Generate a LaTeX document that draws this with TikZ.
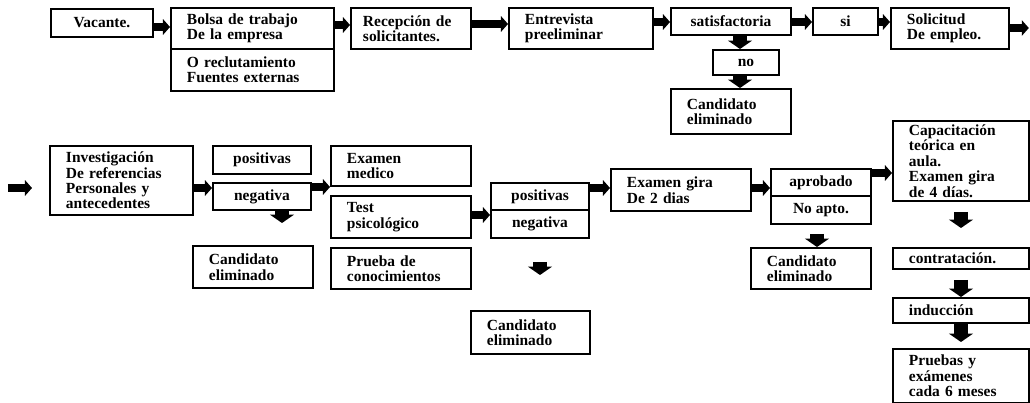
\documentclass[tikz,border=0pt]{standalone}
\usepackage{fontspec}
\setmainfont{Liberation Serif}
\usetikzlibrary{arrows.meta}

\begin{document}
\begin{tikzpicture}[
caja/.style={draw,line width=1.4pt,anchor=north west,inner xsep=0.4cm,inner ysep=1pt,align=left,font=\bfseries\fontsize{11}{11}\selectfont},
centro/.style={caja,align=center,inner xsep=2pt},
flecha/.style={line width=5pt,-{Triangle[length=5pt,width=11pt]}},
bajada/.style={line width=10.5pt,-{Triangle[length=6pt,width=17pt]}}]
\useasboundingbox (0,0) rectangle (25.75,-10.075);
\node[centro,minimum width=2.55cm,minimum height=0.7cm] (vac) at (1.25,-0.2) {Vacante.};
\node[caja,text width=3.275cm,minimum height=1.025cm] (bolsa) at (4.25,-0.175) {Bolsa de trabajo\\De la empresa};
\node[caja,text width=3.275cm,minimum height=1.05cm] (fuentes) at (4.25,-1.2) {O reclutamiento\\Fuentes externas};
\node[caja,inner xsep=0.3cm,text width=2.4cm,minimum height=1.025cm] (recep) at (8.75,-0.175) {Recepción de\\solicitantes.};
\node[caja,text width=2.8cm,minimum height=1.025cm] (entrev) at (12.7,-0.175) {Entrevista\\preeliminar};
\node[centro,minimum width=3cm,minimum height=0.675cm] (satisf) at (16.75,-0.175) {satisfactoria};
\node[centro,minimum width=1.625cm,minimum height=0.675cm] (si) at (20.3,-0.175) {si};
\node[caja,text width=2.15cm,minimum height=1.025cm] (solic) at (22.25,-0.175) {Solicitud\\De empleo.};
\node[centro,minimum width=1.65cm,minimum height=0.625cm] (no) at (17.8,-1.225) {no};
\node[caja,text width=2.2cm,minimum height=1.125cm] (elim1) at (16.75,-2.2) {Candidato\\eliminado};
\node[caja,text width=2.775cm,minimum height=1.725cm] (invest) at (1.225,-3.625) {Investigación\\De referencias\\Personales y\\antecedentes};
\node[centro,minimum width=2.45cm,minimum height=0.7cm] (posA) at (5.3,-3.625) {positivas};
\node[centro,minimum width=2.45cm,minimum height=0.675cm] (negA) at (5.3,-4.55) {negativa};
\node[caja,text width=2.2cm,minimum height=1.05cm] (elim2) at (4.8,-6.125) {Candidato\\eliminado};
\node[caja,text width=2.7cm,minimum height=1cm] (medico) at (8.25,-3.625) {Examen\\medico};
\node[caja,text width=2.7cm,minimum height=1.05cm] (test) at (8.25,-4.875) {Test\\psicológico};
\node[caja,text width=2.7cm,minimum height=1.025cm] (prueba) at (8.25,-6.175) {Prueba de\\conocimientos};
\node[centro,minimum width=2.45cm,minimum height=0.675cm] (posB) at (12.25,-4.55) {positivas};
\node[centro,minimum width=2.45cm,minimum height=0.7cm] (negB) at (12.25,-5.225) {negativa};
\node[caja,text width=2.175cm,minimum height=1.075cm] (elim3) at (11.75,-7.75) {Candidato\\eliminado};
\node[caja,text width=2.7cm,minimum height=1.05cm] (gira2) at (15.25,-4.2) {Examen gira\\De 2 dias};
\node[centro,minimum width=2.5cm,minimum height=0.675cm] (aprob) at (19.25,-4.2) {aprobado};
\node[centro,minimum width=2.5cm,minimum height=0.7cm] (noapto) at (19.25,-4.875) {No apto.};
\node[caja,text width=2.2cm,minimum height=1.025cm] (elim4) at (18.75,-6.175) {Candidato\\eliminado};
\node[caja,text width=2.6cm,minimum height=2cm] (capac) at (22.3,-3) {Capacitación\\teórica en\\aula.\\Examen gira\\de 4 días.};
\node[caja,text width=2.6cm,minimum height=0.525cm] (contr) at (22.3,-6.175) {contratación.};
\node[caja,text width=2.6cm,minimum height=0.625cm] (induc) at (22.3,-7.425) {inducción};
\node[caja,text width=2.6cm,minimum height=1.35cm] (pruebas) at (22.3,-8.7) {Pruebas y\\exámenes\\cada 6 meses};
\coordinate (sale) at (25.72,-0.7);
\coordinate (ini) at (0.2,-4.7);
\coordinate (fin) at (0.8,-4.7);
\draw[flecha] (vac.east |- 0,-0.675) -- (bolsa.west |- 0,-0.675);
\draw[flecha] (bolsa.east |- 0,-0.625) -- (recep.west |- 0,-0.625);
\draw[flecha] (recep.east |- 0,-0.6) -- (entrev.west |- 0,-0.6);
\draw[flecha] (entrev.east |- 0,-0.55) -- (satisf.west |- 0,-0.55);
\draw[flecha] (satisf.east |- 0,-0.55) -- (si.west |- 0,-0.55);
\draw[flecha] (si.east |- 0,-0.55) -- (solic.west |- 0,-0.55);
\draw[flecha] (solic.east |- sale) -- (sale);
\draw[bajada] (satisf.south -| 18.5,0) -- (no.north -| 18.5,0);
\draw[bajada] (no.south -| 18.5,0) -- (elim1.north -| 18.5,0);
\draw[flecha] (ini) -- (fin);
\draw[flecha] (invest.east |- 0,-4.7) -- (negA.west |- 0,-4.7);
\draw[flecha] (negA.east |- 0,-4.675) -- (medico.west |- 0,-4.675);
\draw[flecha] (test.east |- 0,-5.375) -- (negB.west |- 0,-5.375);
\draw[flecha] (posB.east |- 0,-4.7) -- (gira2.west |- 0,-4.7);
\draw[flecha] (gira2.east |- 0,-4.7) -- (aprob.west |- 0,-4.7);
\draw[flecha] (aprob.east |- 0,-4.325) -- (capac.west |- 0,-4.325);
\draw[bajada,shorten >=0.55cm] (negA.south -| 7.05,0) -- (elim2.north -| 7.05,0);
\draw[bajada,shorten <=0.575cm,shorten >=0.875cm] (negB.south) -- (elim3.north -| negB.south);
\draw[bajada,shorten <=0.225cm] (noapto.south -| 20.425,0) -- (elim4.north -| 20.425,0);
\draw[bajada,shorten <=0.25cm,shorten >=0.475cm] (capac.south) -- (contr.north);
\draw[bajada,shorten <=0.25cm] (contr.south) -- (induc.north);
\draw[bajada,shorten >=0.15cm] (induc.south) -- (pruebas.north);
\end{tikzpicture}
\end{document}
